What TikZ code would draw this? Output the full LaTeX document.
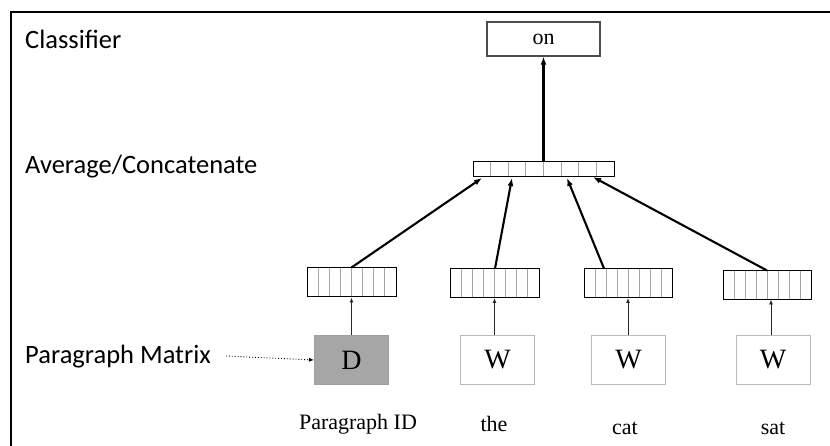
\documentclass[tikz,border=0pt]{standalone}
\usepackage{fontspec}
\setmainfont{Liberation Serif}
\newfontfamily\labelfont{Carlito}
\usetikzlibrary{arrows.meta,calc}

\tikzset{
  sidelabel/.style={anchor=west, inner sep=0pt, font=\labelfont\fontsize{26.5}{30}\selectfont},
  wordlabel/.style={inner sep=0pt, font=\fontsize{22}{26}\selectfont},
  inbox/.style={draw=gray!55, line width=1pt, minimum width=74pt, minimum height=49pt,
    inner sep=0pt, font=\fontsize{28}{32}\selectfont},
  vecbox/.style={draw=black, line width=1pt, minimum width=#1, minimum height=29pt, inner sep=0pt,
    path picture={
      \foreach \i in {1,...,7}{
        \draw[gray!70, line width=0.8pt]
          ($(path picture bounding box.south west)!{\i/8}!(path picture bounding box.south east)$) --
          ($(path picture bounding box.north west)!{\i/8}!(path picture bounding box.north east)$);
      }}},
  thinarrow/.style={-{Latex[length=5pt,width=4pt]}, line width=0.9pt, draw=black!85},
  thickarrow/.style={-{Latex[length=8pt,width=6pt]}, line width=2.1pt},
}

\begin{document}
\begin{tikzpicture}[x=1pt, y=-1pt]
  \useasboundingbox (0,0) rectangle (830,446);
  \clip (0,0) rectangle (830,446);
  \fill[white] (0,0) rectangle (830,446);

  % outer frame
  \draw[line width=1.8pt] (11,470) -- (11,12) -- (850,12);

  % row labels
  \node[sidelabel] (lcls) at (25,39) {Classifier};
  \node[sidelabel] (lavg) at (25,167) {Average/Concatenate};
  \node[sidelabel] (lpar) at (25,357) {Paragraph Matrix};

  % output
  \node[draw=black!70, line width=1.2pt, minimum width=113pt, minimum height=34pt, inner sep=0pt,
        font=\fontsize{22}{26}\selectfont] (on) at (543.5,39) {on};

  % combined vector
  \node[vecbox=141pt, minimum height=15pt] (avg) at (543.5,169.5) {};

  % per-input vectors
  \node[vecbox=89pt] (vd) at (351.5,282.5) {};
  \node[vecbox=89pt] (v1) at (494.5,283) {};
  \node[vecbox=88pt] (v2) at (628,283) {};
  \node[vecbox=88pt] (v3) at (767,285) {};

  % inputs
  \node[inbox, fill=gray!70, draw=gray!75] (d) at (351.5,360) {D};
  \node[inbox] (w1) at (497.5,360) {W};
  \node[inbox] (w2) at (628.5,360) {W};
  \node[inbox] (w3) at (773,360) {W};

  % words
  \node[wordlabel] (tid) at (358,424) {Paragraph ID};
  \node[wordlabel] (t1) at (494,424) {the};
  \node[wordlabel] (t2) at (625,428) {cat};
  \node[wordlabel] (t3) at (773,428) {sat};

  % connectors
  \draw[dotted, line width=0.9pt, -{Latex[length=5pt,width=4pt]}] (226,356) -- (d.west);

  \draw[thinarrow] (d.north) -- (vd.south);
  \draw[thinarrow] (w1.north -| v1.south) -- (v1.south);
  \draw[thinarrow] (w2.north -| v2.south) -- (v2.south);
  \draw[thinarrow] (w3.north -| 771,0) -- (771,299.5);

  \coordinate (ad) at (482,178);
  \coordinate (a1) at (512,178);
  \coordinate (a2) at (567,178);
  \coordinate (a3) at (593,177);
  \draw[thickarrow] (vd.north) -- (ad);
  \draw[thickarrow] (495,268.5) -- (a1);
  \draw[thickarrow] (604,268.5) -- (a2);
  \draw[thickarrow] (767,270.5) -- (a3);
  \draw[thickarrow] (avg.north) -- (on.south);
\end{tikzpicture}
\end{document}
